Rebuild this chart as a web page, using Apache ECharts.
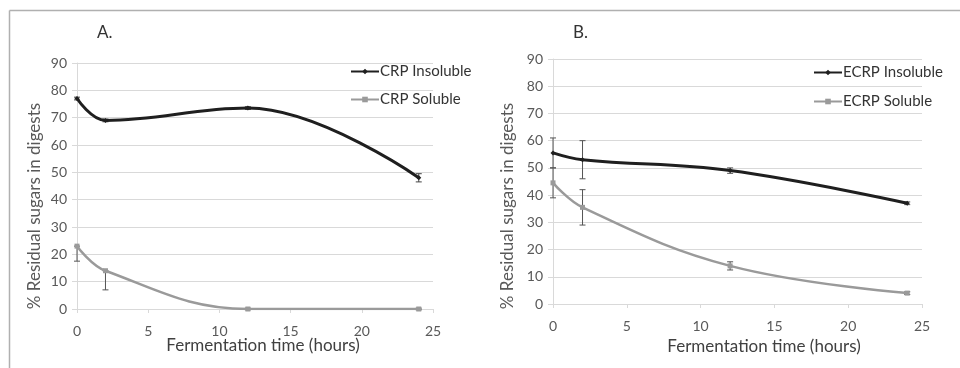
<!DOCTYPE html>
<html>
<head>
<meta charset="utf-8">
<script src="https://cdn.jsdelivr.net/npm/echarts@6/dist/echarts.min.js"></script>
<style>
html,body{margin:0;padding:0;background:#fff;}
#chart{width:960px;height:368px;}
</style>
</head>
<body>
<div id="chart"></div>
<script>
// ---- Data ----
const hours = [0, 2, 12, 24];
const xTicks = [0, 5, 10, 15, 20, 25];
const yTicks = [0, 10, 20, 30, 40, 50, 60, 70, 80, 90];

// Panel A
const crpInsoluble = [77, 69, 73.5, 48];
const crpInsolubleErrLow = [0.5, 0.5, 0.5, 1.5];
const crpInsolubleErrHigh = [0.5, 0.5, 0.5, 1.5];
const crpSoluble = [23, 14, 0, 0];
const crpSolubleErrLow = [5.5, 7, 0.3, 0.3];
const crpSolubleErrHigh = [0, 0, 0.3, 0.3];

// Panel B
const ecrpInsoluble = [55.5, 53, 49, 37];
const ecrpInsolubleErrLow = [5.5, 7, 1, 0.5];
const ecrpInsolubleErrHigh = [5.5, 7, 1, 0.5];
const ecrpSoluble = [44.5, 35.5, 14, 4];
const ecrpSolubleErrLow = [5.5, 6.5, 1.5, 0.5];
const ecrpSolubleErrHigh = [5.5, 6.5, 1.5, 0.5];

const FONT = 'Lato, "Liberation Sans", sans-serif';
const DARK = '#1f1f1f';
const GRAY = '#9a9a9a';
const TXT = '#595959';

function pts(vals) { return hours.map((h, i) => [h, vals[i]]); }
function errData(vals, lo, hi) { return hours.map((h, i) => [h, vals[i] - lo[i], vals[i] + hi[i]]); }

function errSeries(idx, vals, lo, hi, color) {
  return {
    type: 'custom', xAxisIndex: idx, yAxisIndex: idx, silent: true, z: 1,
    data: errData(vals, lo, hi),
    renderItem: function (params, api) {
      const x = api.value(0);
      const a = api.coord([x, api.value(1)]);
      const b = api.coord([x, api.value(2)]);
      const cw = 3;
      const style = { stroke: color, lineWidth: 1, fill: 'none' };
      return {
        type: 'group',
        children: [
          { type: 'line', shape: { x1: a[0], y1: a[1], x2: b[0], y2: b[1] }, style: style },
          { type: 'line', shape: { x1: a[0] - cw, y1: a[1], x2: a[0] + cw, y2: a[1] }, style: style },
          { type: 'line', shape: { x1: b[0] - cw, y1: b[1], x2: b[0] + cw, y2: b[1] }, style: style }
        ]
      };
    }
  };
}

function xAxis(idx) {
  return {
    type: 'value', gridIndex: idx, min: xTicks[0], max: xTicks[xTicks.length - 1], interval: 5,
    axisLine: { show: true, lineStyle: { color: '#d9d9d9', width: 1 } },
    axisTick: { show: true, length: 4, lineStyle: { color: '#d9d9d9' } },
    splitLine: { show: false },
    axisLabel: { color: TXT, fontFamily: FONT, fontSize: 14, margin: 15 }
  };
}
function yAxis(idx) {
  return {
    type: 'value', gridIndex: idx, min: yTicks[0], max: yTicks[yTicks.length - 1], interval: 10,
    axisLine: { show: true, lineStyle: { color: '#d9d9d9', width: 1 } },
    axisTick: { show: true, length: 5, lineStyle: { color: '#d9d9d9' } },
    splitLine: { show: true, lineStyle: { color: '#d9d9d9', width: 1 } },
    axisLabel: { color: TXT, fontFamily: FONT, fontSize: 14, margin: 10 }
  };
}
function lineSeries(name, idx, vals, color, width, symbol) {
  return {
    name: name, type: 'line', xAxisIndex: idx, yAxisIndex: idx, z: 3,
    data: pts(vals), smooth: 0.4,
    symbol: symbol, symbolSize: 5, showSymbol: true,
    lineStyle: { color: color, width: width },
    itemStyle: { color: color }
  };
}

const chart = echarts.init(document.getElementById('chart'), null, { renderer: 'canvas' });
chart.setOption({
  animation: false,
  backgroundColor: '#fff',
  grid: [
    { left: 77, right: 527, top: 63, bottom: 59 },
    { left: 553, right: 38, top: 59, bottom: 64 }
  ],
  xAxis: [xAxis(0), xAxis(1)],
  yAxis: [yAxis(0), yAxis(1)],
  legend: [
    { data: ['CRP Insoluble', 'CRP Soluble'], orient: 'vertical', left: 345, top: 59, itemWidth: 28, itemHeight: 7, itemGap: 13,
      textStyle: { color: '#333', fontFamily: FONT, fontSize: 15, padding: [0, 0, 0, -4] } },
    { data: ['ECRP Insoluble', 'ECRP Soluble'], orient: 'vertical', left: 808, top: 60, itemWidth: 28, itemHeight: 7, itemGap: 14,
      textStyle: { color: '#333', fontFamily: FONT, fontSize: 15, padding: [0, 0, 0, -4] } }
  ],
  series: [
    errSeries(0, crpInsoluble, crpInsolubleErrLow, crpInsolubleErrHigh, '#444'),
    errSeries(0, crpSoluble, crpSolubleErrLow, crpSolubleErrHigh, '#555'),
    errSeries(1, ecrpInsoluble, ecrpInsolubleErrLow, ecrpInsolubleErrHigh, '#555'),
    errSeries(1, ecrpSoluble, ecrpSolubleErrLow, ecrpSolubleErrHigh, '#555'),
    lineSeries('CRP Insoluble', 0, crpInsoluble, DARK, 3, 'diamond'),
    lineSeries('CRP Soluble', 0, crpSoluble, GRAY, 2.5, 'rect'),
    lineSeries('ECRP Insoluble', 1, ecrpInsoluble, DARK, 3, 'diamond'),
    lineSeries('ECRP Soluble', 1, ecrpSoluble, GRAY, 2.5, 'rect')
  ],
  graphic: [
    { type: 'line', shape: { x1: 9.5, y1: 10.5, x2: 960, y2: 10.5 }, style: { stroke: '#b0b0b0', lineWidth: 1.5 } },
    { type: 'line', shape: { x1: 9.5, y1: 10.5, x2: 9.5, y2: 368 }, style: { stroke: '#b0b0b0', lineWidth: 1.5 } },
    { type: 'text', x: 97, y: 33, style: { text: 'A.', fill: '#333', font: '17px ' + FONT, textVerticalAlign: 'middle' } },
    { type: 'text', x: 573, y: 33, style: { text: 'B.', fill: '#333', font: '17px ' + FONT, textVerticalAlign: 'middle' } },
    { type: 'text', x: 35, y: 206, rotation: Math.PI / 2, style: { text: '% Residual sugars in digests', fill: TXT, font: '17px ' + FONT, textAlign: 'center', textVerticalAlign: 'middle' } },
    { type: 'text', x: 508, y: 206, rotation: Math.PI / 2, style: { text: '% Residual sugars in digests', fill: TXT, font: '17px ' + FONT, textAlign: 'center', textVerticalAlign: 'middle' } },
    { type: 'text', x: 263, y: 346, style: { text: 'Fermentation time (hours)', fill: '#404040', font: '17px ' + FONT, textAlign: 'center', textVerticalAlign: 'middle' } },
    { type: 'text', x: 764, y: 347, style: { text: 'Fermentation time (hours)', fill: '#404040', font: '17px ' + FONT, textAlign: 'center', textVerticalAlign: 'middle' } }
  ]
});
</script>
</body>
</html>
